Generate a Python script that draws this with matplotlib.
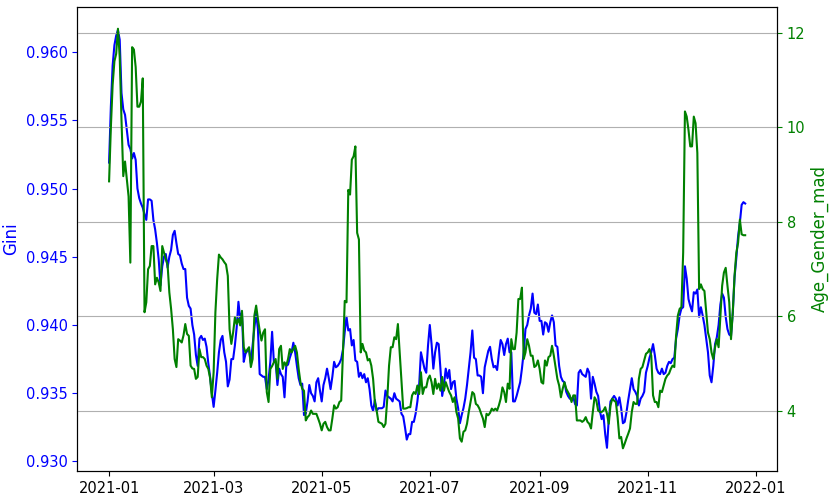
import matplotlib
matplotlib.use("Agg")
import matplotlib.pyplot as plt
import matplotlib.dates as mdates
import pandas as pd

# 日期：2021-01-01 起逐日
START_DATE = "2021-01-01"

# Gini（左轴，蓝色）
gini = [
    0.9519, 0.9560, 0.9590, 0.9605, 0.9612, 0.9616, 0.9609, 0.9570, 0.9558, 0.9554,
    0.9543, 0.9532, 0.9529, 0.9522, 0.9526, 0.9521, 0.9500, 0.9493, 0.9489, 0.9486,
    0.9481, 0.9477, 0.9492, 0.9492, 0.9491, 0.9477, 0.9470, 0.9460, 0.9448, 0.9429,
    0.9443, 0.9450, 0.9452, 0.9442, 0.9450, 0.9455, 0.9466, 0.9469, 0.9460, 0.9452,
    0.9451, 0.9445, 0.9441, 0.9441, 0.9420, 0.9414, 0.9412, 0.9400, 0.9393, 0.9378,
    0.9370, 0.9390, 0.9392, 0.9389, 0.9390, 0.9384, 0.9372, 0.9362, 0.9350, 0.9340,
    0.9352, 0.9365, 0.9380, 0.9389, 0.9392, 0.9380, 0.9373, 0.9355, 0.9360, 0.9375,
    0.9375, 0.9385, 0.9398, 0.9417, 0.9404, 0.9409, 0.9373, 0.9379, 0.9381, 0.9382,
    0.9372, 0.9385, 0.9398, 0.9409, 0.9397, 0.9364, 0.9363, 0.9362, 0.9362, 0.9353,
    0.9360, 0.9373, 0.9395, 0.9373, 0.9373, 0.9356, 0.9368, 0.9364, 0.9362, 0.9347,
    0.9370, 0.9371, 0.9376, 0.9380, 0.9387, 0.9380, 0.9370, 0.9361, 0.9356, 0.9357,
    0.9334, 0.9335, 0.9344, 0.9356, 0.9350, 0.9348, 0.9344, 0.9358, 0.9361, 0.9352,
    0.9344, 0.9356, 0.9361, 0.9368, 0.9361, 0.9353, 0.9362, 0.9373, 0.9369, 0.9370,
    0.9372, 0.9375, 0.9382, 0.9395, 0.9406, 0.9396, 0.9397, 0.9385, 0.9389, 0.9374,
    0.9373, 0.9362, 0.9365, 0.9361, 0.9364, 0.9358, 0.9361, 0.9353, 0.9341, 0.9337,
    0.9345, 0.9337, 0.9339, 0.9339, 0.9339, 0.9340, 0.9352, 0.9348, 0.9347, 0.9346,
    0.9344, 0.9350, 0.9346, 0.9345, 0.9344, 0.9335, 0.9333, 0.9325, 0.9316, 0.9320,
    0.9320, 0.9329, 0.9329, 0.9335, 0.9344, 0.9356, 0.9380, 0.9374, 0.9368, 0.9365,
    0.9385, 0.9400, 0.9386, 0.9368, 0.9380, 0.9387, 0.9386, 0.9368, 0.9348, 0.9356,
    0.9368, 0.9361, 0.9367, 0.9353, 0.9358, 0.9359, 0.9346, 0.9339, 0.9328, 0.9334,
    0.9339, 0.9346, 0.9356, 0.9368, 0.9380, 0.9396, 0.9376, 0.9375, 0.9363, 0.9363,
    0.9362, 0.9350, 0.9369, 0.9375, 0.9381, 0.9384, 0.9375, 0.9369, 0.9370, 0.9367,
    0.9379, 0.9389, 0.9386, 0.9378, 0.9386, 0.9390, 0.9380, 0.9380, 0.9344, 0.9344,
    0.9348, 0.9353, 0.9358, 0.9368, 0.9380, 0.9397, 0.9400, 0.9407, 0.9412, 0.9423,
    0.9409, 0.9408, 0.9415, 0.9403, 0.9403, 0.9393, 0.9402, 0.9401, 0.9395, 0.9402,
    0.9407, 0.9402, 0.9385, 0.9384, 0.9370, 0.9362, 0.9359, 0.9358, 0.9351, 0.9348,
    0.9346, 0.9346, 0.9347, 0.9342, 0.9341, 0.9365, 0.9367, 0.9364, 0.9363, 0.9362,
    0.9368, 0.9365, 0.9346, 0.9362, 0.9357, 0.9351, 0.9348, 0.9337, 0.9331, 0.9334,
    0.9320, 0.9310, 0.9331, 0.9344, 0.9346, 0.9348, 0.9346, 0.9341, 0.9347, 0.9339,
    0.9328, 0.9329, 0.9336, 0.9345, 0.9353, 0.9361, 0.9353, 0.9351, 0.9348, 0.9341,
    0.9346, 0.9348, 0.9351, 0.9365, 0.9370, 0.9376, 0.9380, 0.9386, 0.9378, 0.9368,
    0.9365, 0.9364, 0.9368, 0.9364, 0.9365, 0.9370, 0.9373, 0.9372, 0.9375, 0.9376,
    0.9390, 0.9397, 0.9407, 0.9412, 0.9413, 0.9443, 0.9434, 0.9419, 0.9414, 0.9410,
    0.9424, 0.9423, 0.9426, 0.9406, 0.9413, 0.9407, 0.9400, 0.9390, 0.9380, 0.9363,
    0.9358, 0.9370, 0.9386, 0.9391, 0.9400, 0.9415, 0.9423, 0.9420, 0.9406, 0.9397,
    0.9393, 0.9392, 0.9409, 0.9435, 0.9449, 0.9465, 0.9475, 0.9488, 0.9490, 0.9489,
]

# Age_Gender_mad（右轴，绿色）
age_gender_mad = [
    8.86, 10.00, 10.90, 11.40, 11.56, 12.09, 11.49, 10.16, 8.97, 9.28,
    8.90, 8.54, 7.14, 11.70, 11.65, 11.28, 10.44, 10.44, 10.55, 11.04,
    6.09, 6.30, 7.00, 7.07, 7.49, 7.49, 6.68, 6.82, 6.72, 6.54,
    7.49, 7.35, 7.21, 7.10, 6.51, 6.16, 5.73, 5.10, 4.93, 5.52,
    5.49, 5.45, 5.60, 5.84, 5.63, 5.59, 4.96, 4.90, 4.89, 4.68,
    4.72, 5.31, 5.14, 5.14, 5.10, 4.96, 4.89, 4.70, 4.29, 4.82,
    6.09, 6.79, 7.31, 7.25, 7.21, 7.15, 7.10, 6.86, 5.73, 5.42,
    5.66, 5.98, 5.84, 5.95, 5.81, 6.12, 5.35, 5.24, 5.30, 5.35,
    4.93, 5.10, 6.02, 6.23, 5.95, 5.70, 5.49, 5.66, 5.73, 4.40,
    4.19, 4.89, 4.95, 5.03, 5.10, 4.68, 5.31, 5.38, 4.89, 5.03,
    4.96, 5.10, 5.31, 5.24, 5.31, 5.38, 5.24, 4.89, 4.61, 4.47,
    4.43, 3.80, 3.87, 3.91, 4.01, 3.94, 3.94, 3.94, 3.84, 3.73,
    3.59, 3.73, 3.77, 3.66, 3.59, 3.59, 3.84, 4.12, 4.05, 4.08,
    4.19, 4.22, 5.24, 6.33, 6.30, 8.68, 8.58, 9.32, 9.39, 9.60,
    7.77, 7.63, 5.24, 5.42, 5.28, 5.24, 5.07, 5.10, 4.96, 4.68,
    4.19, 4.01, 3.77, 3.75, 3.73, 3.66, 3.73, 4.26, 4.96, 5.35,
    5.35, 5.56, 5.52, 5.84, 5.24, 4.61, 4.05, 4.05, 4.06, 4.08,
    4.08, 4.33, 4.40, 4.36, 4.54, 4.36, 4.82, 4.36, 4.50, 4.50,
    4.68, 4.75, 4.61, 4.36, 4.68, 4.47, 4.58, 4.43, 4.72, 4.43,
    4.61, 4.50, 4.40, 4.33, 4.19, 4.29, 3.98, 3.84, 3.42, 3.35,
    3.56, 3.59, 3.73, 3.98, 4.19, 4.40, 4.36, 4.15, 4.12, 4.05,
    3.94, 3.84, 3.66, 3.94, 3.91, 3.96, 4.05, 4.01, 4.05, 4.01,
    4.12, 4.26, 4.50, 4.40, 4.19, 4.58, 4.47, 5.52, 5.31, 5.31,
    5.66, 6.37, 6.37, 6.61, 5.10, 5.24, 5.52, 5.38, 5.17, 5.17,
    4.93, 4.96, 5.07, 4.89, 4.61, 4.58, 5.07, 4.96, 5.14, 5.17,
    5.38, 5.17, 4.93, 4.68, 4.54, 4.29, 4.47, 4.61, 4.47, 4.40,
    4.33, 4.19, 4.33, 4.33, 3.80, 3.80, 3.80, 3.77, 3.80, 3.87,
    3.77, 3.73, 3.63, 3.98, 4.29, 4.22, 4.01, 3.98, 3.98, 4.01,
    4.08, 3.94, 3.73, 4.12, 4.26, 4.22, 4.19, 3.87, 3.42, 3.45,
    3.21, 3.31, 3.42, 3.52, 3.63, 3.98, 4.19, 4.15, 4.15, 4.68,
    4.89, 4.93, 5.07, 5.21, 5.24, 5.31, 5.17, 4.33, 4.19, 4.19,
    4.08, 4.43, 4.40, 4.54, 4.68, 4.75, 4.79, 4.89, 4.96, 4.93,
    5.59, 6.02, 6.16, 6.20, 7.35, 10.34, 10.23, 9.95, 9.60, 9.60,
    10.23, 10.09, 9.46, 6.58, 6.68, 6.58, 6.54, 6.09, 5.66, 5.52,
    5.24, 5.10, 5.35, 5.52, 5.35, 6.02, 6.65, 6.93, 7.03, 6.65,
    6.30, 5.52, 6.09, 6.86, 7.35, 7.56, 8.05, 7.74, 7.72, 7.72,
]

dates = pd.date_range(START_DATE, periods=len(gini), freq="D")

fig, ax1 = plt.subplots(figsize=(8.31, 5.0), dpi=100)
fig.subplots_adjust(left=0.093, right=0.935, bottom=0.058, top=0.986)

ax1.plot(dates, gini, color="blue", linewidth=1.5)
ax1.set_ylabel("Gini", color="blue", fontsize=12)
ax1.tick_params(axis="y", colors="blue", labelsize=10.5)
ax1.tick_params(axis="x", labelsize=10.5)
ax1.set_ylim(0.9293, 0.9633)
ax1.set_yticks([0.930, 0.935, 0.940, 0.945, 0.950, 0.955, 0.960])
ax1.yaxis.set_major_formatter(matplotlib.ticker.FormatStrFormatter("%.3f"))

ax2 = ax1.twinx()
ax2.plot(dates, age_gender_mad, color="green", linewidth=1.5)
ax2.set_ylabel("Age_Gender_mad", color="green", fontsize=12)
ax2.tick_params(axis="y", colors="green", labelsize=10.5)
ax2.set_ylim(2.73, 12.55)
ax2.set_yticks([4, 6, 8, 10, 12])
ax2.grid(axis="y", color="#b0b0b0", linewidth=0.8)

ax1.xaxis.set_major_locator(mdates.MonthLocator(bymonth=[1, 3, 5, 7, 9, 11]))
ax1.xaxis.set_major_formatter(mdates.DateFormatter("%Y-%m"))

fig.savefig("out.png", dpi=100)
